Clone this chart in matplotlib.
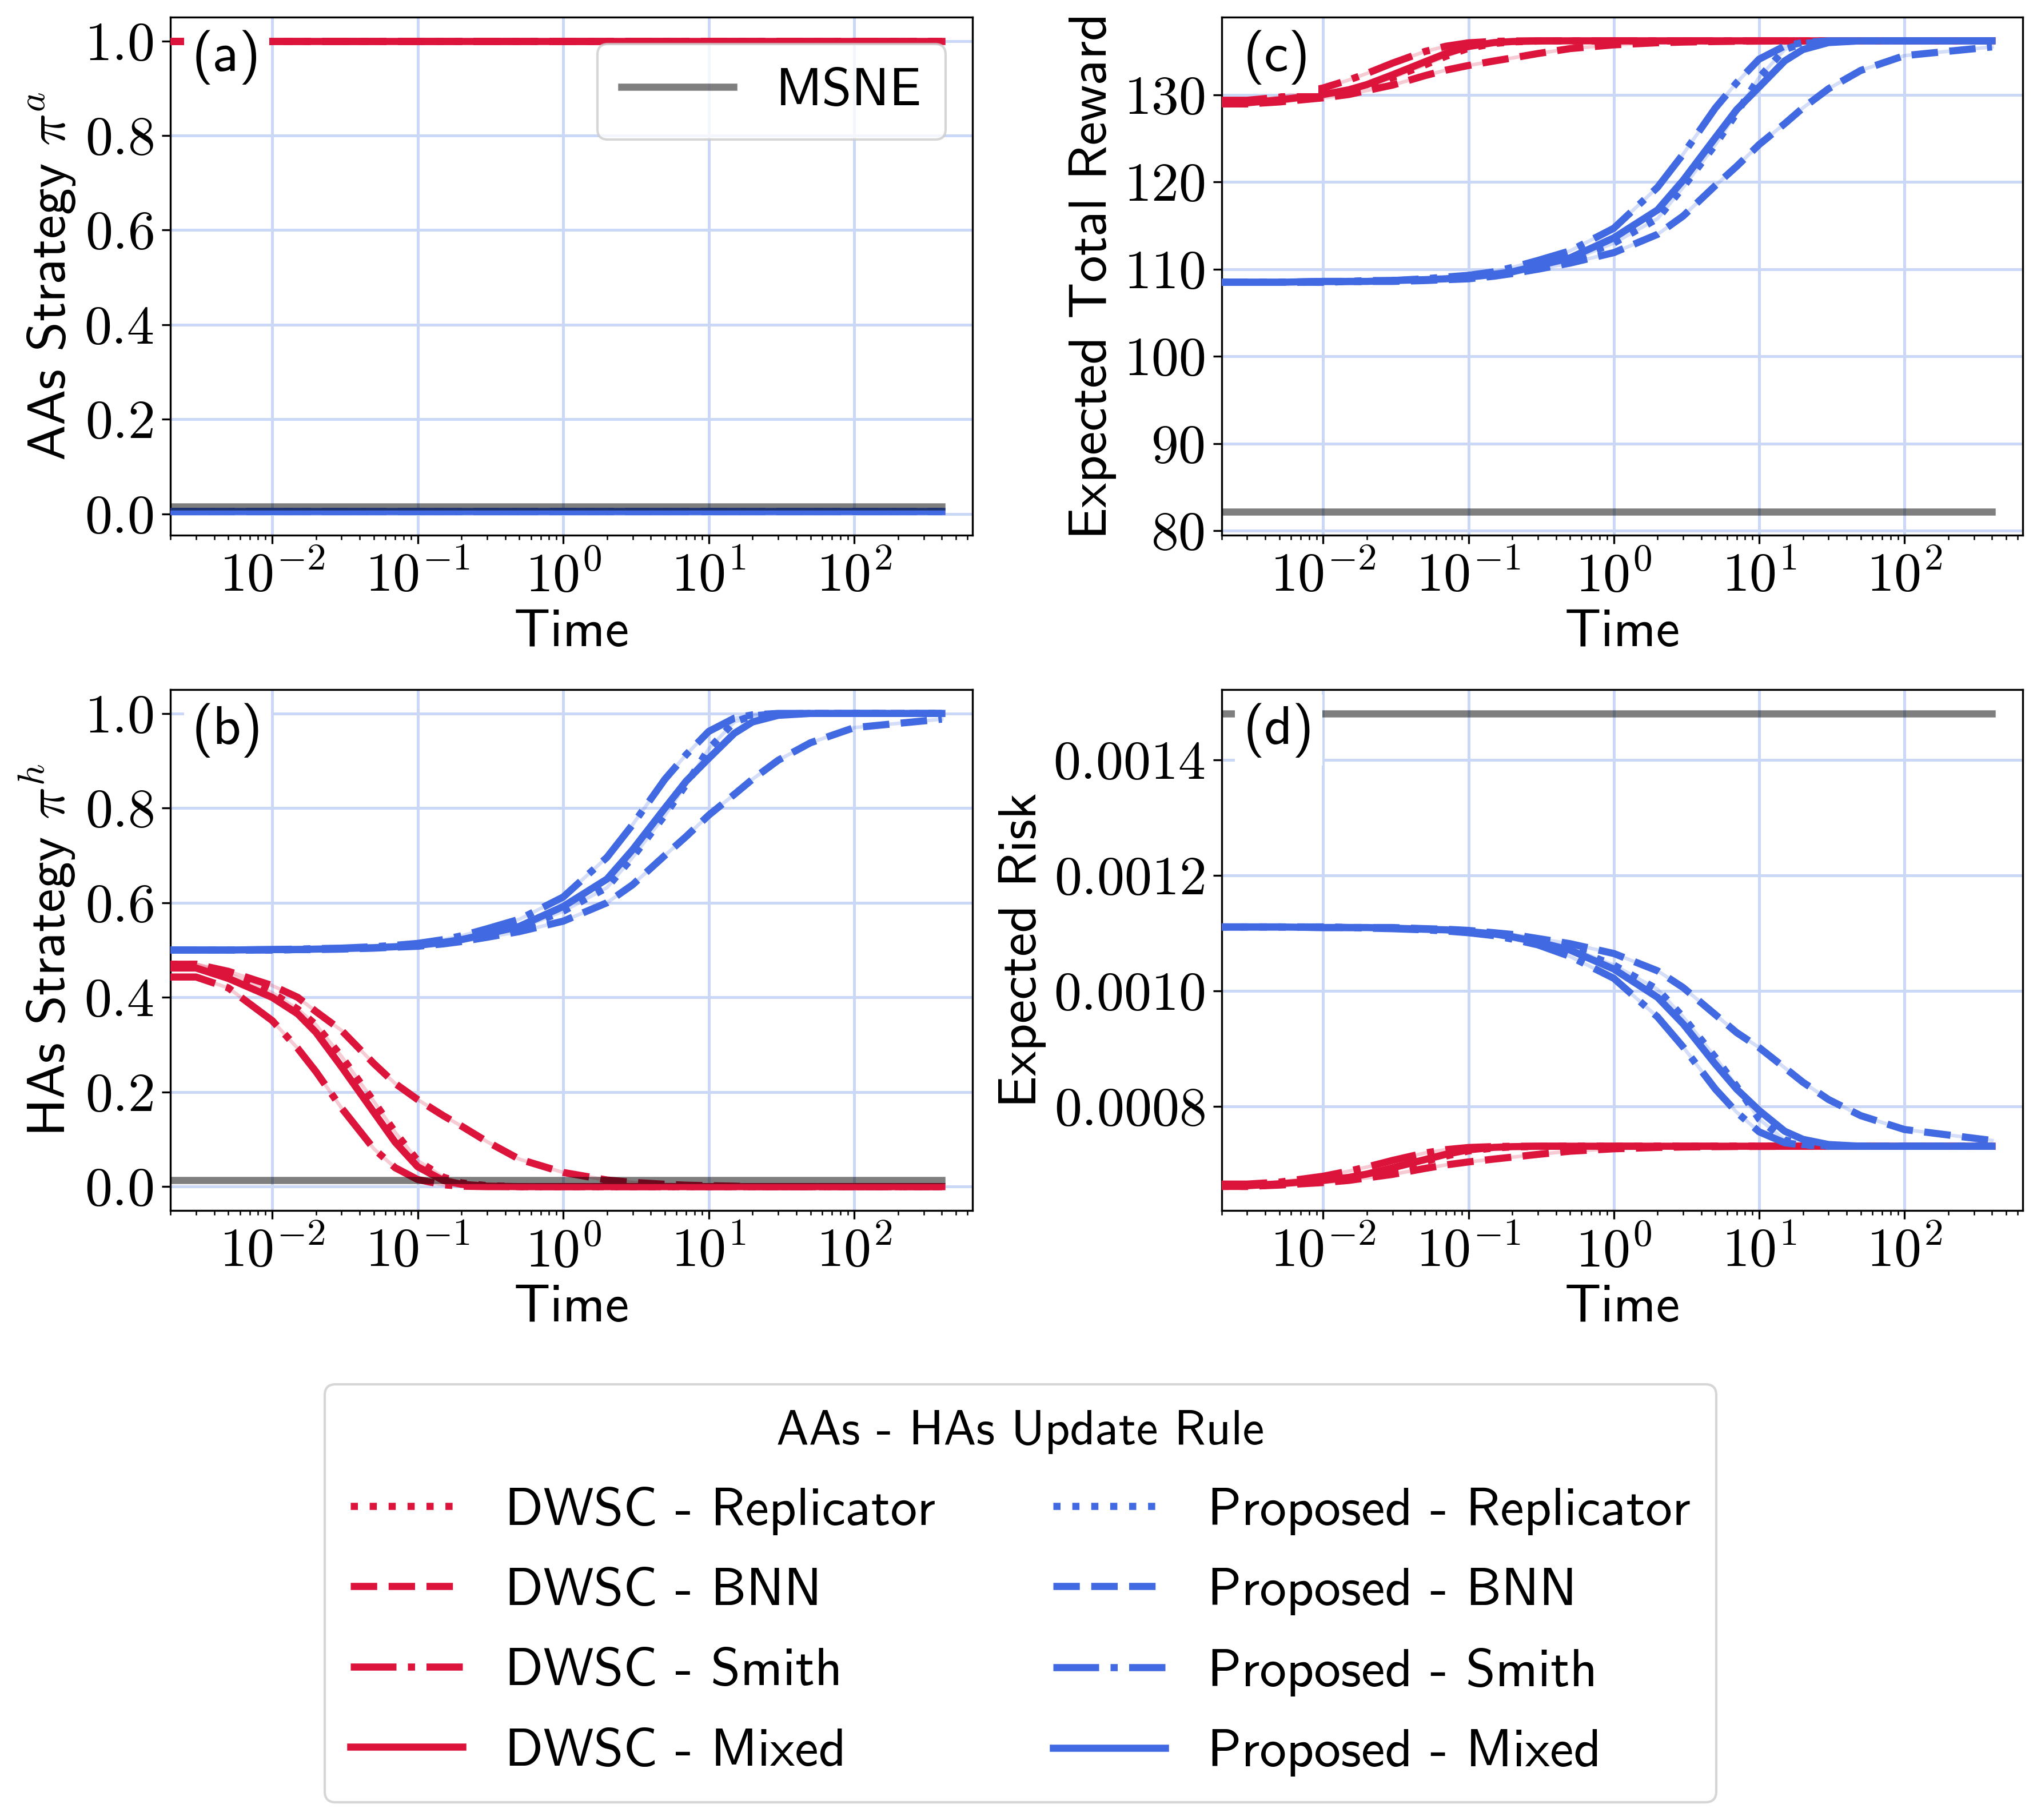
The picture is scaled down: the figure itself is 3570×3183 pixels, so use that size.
import numpy as np
import matplotlib
matplotlib.use("Agg")
import matplotlib.pyplot as plt
import matplotlib.ticker as ticker
from matplotlib.lines import Line2D

plt.rcParams["font.family"] = ["cmss10", "DejaVu Sans"]
plt.rcParams["mathtext.fontset"] = "cm"
plt.rcParams["axes.formatter.use_mathtext"] = True

RED = "#DC143C"
BLUE = "#4169E1"
GRID = "#cad7f7"

# ── data ──────────────────────────────────────────────────────────────────
T = [0.002, 0.003, 0.005, 0.01, 0.015, 0.02, 0.03, 0.05, 0.07, 0.1, 0.15, 0.2,
     0.3, 0.5, 1, 2, 3, 5, 7, 10, 15, 20, 30, 50, 100, 400]

RULES = ["Replicator", "BNN", "Smith", "Mixed"]
STYLES = {"Replicator": ":", "BNN": "--", "Smith": "-.", "Mixed": "-"}

# (a) AAs strategy
A_DWSC = [1.0, 1.0, 1.0, 1.0, 1.0, 1.0, 1.0, 1.0, 1.0, 1.0, 1.0, 1.0, 1.0,
          1.0, 1.0, 1.0, 1.0, 1.0, 1.0, 1.0, 1.0, 1.0, 1.0, 1.0, 1.0, 1.0]
A_PROP = [0.005, 0.005, 0.005, 0.005, 0.005, 0.005, 0.005, 0.005, 0.005,
          0.005, 0.005, 0.005, 0.005, 0.005, 0.005, 0.005, 0.005, 0.005,
          0.005, 0.005, 0.005, 0.005, 0.005, 0.005, 0.005, 0.005]
A_MSNE = 0.015

# (b) HAs strategy
B_DWSC = {
    "Replicator": [0.47, 0.47, 0.45, 0.41, 0.375, 0.342, 0.275, 0.18, 0.115, 0.055,
                   0.02, 0.008, 0.002, 0, 0, 0, 0, 0, 0, 0, 0, 0, 0, 0, 0, 0],
    "BNN":        [0.47, 0.47, 0.455, 0.425, 0.40, 0.37, 0.33, 0.26, 0.218, 0.184,
                   0.15, 0.128, 0.095, 0.058, 0.03, 0.014, 0.009, 0.005, 0.003,
                   0.002, 0.001, 0, 0, 0, 0, 0],
    "Smith":      [0.443, 0.443, 0.42, 0.351, 0.292, 0.243, 0.166, 0.08, 0.04,
                   0.015, 0.004, 0.001, 0, 0, 0, 0, 0, 0, 0, 0, 0, 0, 0, 0, 0, 0],
    "Mixed":      [0.462, 0.462, 0.44, 0.40, 0.365, 0.326, 0.253, 0.157, 0.094,
                   0.042, 0.013, 0.005, 0.001, 0, 0, 0, 0, 0, 0, 0, 0, 0, 0, 0, 0, 0],
}
B_PROP = {
    "Replicator": [0.5, 0.5, 0.5, 0.5, 0.501, 0.502, 0.503, 0.505, 0.507, 0.509,
                   0.514, 0.52, 0.531, 0.545, 0.582, 0.632, 0.696, 0.785, 0.85,
                   0.925, 0.982, 0.995, 0.999, 1.0, 1.0, 1.0],
    "BNN":        [0.5, 0.5, 0.5, 0.5, 0.501, 0.501, 0.502, 0.504, 0.506, 0.508,
                   0.513, 0.518, 0.527, 0.539, 0.561, 0.60, 0.638, 0.70, 0.74,
                   0.785, 0.829, 0.861, 0.901, 0.938, 0.97, 0.988],
    "Smith":      [0.5, 0.5, 0.5, 0.501, 0.502, 0.503, 0.504, 0.507, 0.51, 0.514,
                   0.522, 0.53, 0.545, 0.565, 0.612, 0.696, 0.765, 0.861, 0.913,
                   0.962, 0.99, 0.997, 1.0, 1.0, 1.0, 1.0],
    "Mixed":      [0.5, 0.5, 0.5, 0.501, 0.501, 0.502, 0.503, 0.505, 0.507, 0.51,
                   0.516, 0.522, 0.534, 0.55, 0.592, 0.65, 0.712, 0.80, 0.857,
                   0.905, 0.958, 0.982, 0.996, 1.0, 1.0, 1.0],
}
B_MSNE = 0.014

# (c) expected total reward
C_DWSC = {
    "Replicator": [128.96, 128.96, 129.27, 129.89, 130.43, 130.93, 131.97, 133.43,
                   134.43, 135.35, 135.89, 136.08, 136.17, 136.2, 136.2, 136.2,
                   136.2, 136.2, 136.2, 136.2, 136.2, 136.2, 136.2, 136.2, 136.2, 136.2],
    "BNN":        [128.96, 128.96, 129.19, 129.66, 130.04, 130.50, 131.12, 132.20,
                   132.84, 133.37, 133.89, 134.23, 134.74, 135.31, 135.74, 135.98,
                   136.06, 136.12, 136.15, 136.17, 136.18, 136.2, 136.2, 136.2,
                   136.2, 136.2],
    "Smith":      [129.38, 129.38, 129.73, 130.79, 131.70, 132.46, 133.64, 134.97,
                   135.58, 135.97, 136.14, 136.18, 136.2, 136.2, 136.2, 136.2,
                   136.2, 136.2, 136.2, 136.2, 136.2, 136.2, 136.2, 136.2, 136.2, 136.2],
    "Mixed":      [129.09, 129.09, 129.42, 130.04, 130.58, 131.18, 132.30, 133.78,
                   134.75, 135.55, 136.0, 136.12, 136.18, 136.2, 136.2, 136.2,
                   136.2, 136.2, 136.2, 136.2, 136.2, 136.2, 136.2, 136.2, 136.2, 136.2],
}
C_PROP = {
    "Replicator": [108.5, 108.5, 108.5, 108.5, 108.6, 108.6, 108.7, 108.8, 108.9,
                   109.0, 109.3, 109.6, 110.2, 111.0, 113.0, 115.8, 119.4, 124.3,
                   127.9, 132.0, 135.2, 135.9, 136.1, 136.2, 136.2, 136.2],
    "BNN":        [108.5, 108.5, 108.5, 108.5, 108.6, 108.6, 108.6, 108.7, 108.8,
                   108.9, 109.2, 109.5, 110.0, 110.7, 111.9, 114.0, 116.1, 119.6,
                   121.8, 124.3, 126.7, 128.5, 130.7, 132.8, 134.5, 135.5],
    "Smith":      [108.5, 108.5, 108.5, 108.6, 108.6, 108.7, 108.7, 108.9, 109.1,
                   109.3, 109.7, 110.2, 111.0, 112.1, 114.7, 119.4, 123.2, 128.5,
                   131.4, 134.1, 135.6, 136.0, 136.2, 136.2, 136.2, 136.2],
    "Mixed":      [108.5, 108.5, 108.5, 108.6, 108.6, 108.6, 108.7, 108.8, 108.9,
                   109.1, 109.4, 109.7, 110.4, 111.3, 113.6, 116.8, 120.2, 125.1,
                   128.3, 130.9, 133.9, 135.2, 136.0, 136.2, 136.2, 136.2],
}
C_MSNE = 82.2

# (d) expected risk
D_DWSC = {
    "Replicator": [0.0006614, 0.0006614, 0.0006644, 0.0006703, 0.0006755, 0.0006804,
                   0.0006903, 0.0007044, 0.000714, 0.0007229, 0.000728, 0.0007298,
                   0.0007307, 0.000731, 0.000731, 0.000731, 0.000731, 0.000731,
                   0.000731, 0.000731, 0.000731, 0.000731, 0.000731, 0.000731,
                   0.000731, 0.000731],
    "BNN":        [0.0006614, 0.0006614, 0.0006637, 0.0006681, 0.0006718, 0.0006762,
                   0.0006822, 0.0006925, 0.0006987, 0.0007038, 0.0007088, 0.0007121,
                   0.0007169, 0.0007224, 0.0007266, 0.0007289, 0.0007297, 0.0007303,
                   0.0007306, 0.0007307, 0.0007309, 0.000731, 0.000731, 0.000731,
                   0.000731, 0.000731],
    "Smith":      [0.0006654, 0.0006654, 0.0006688, 0.000679, 0.0006878, 0.000695,
                   0.0007064, 0.0007192, 0.0007251, 0.0007288, 0.0007304, 0.0007309,
                   0.000731, 0.000731, 0.000731, 0.000731, 0.000731, 0.000731,
                   0.000731, 0.000731, 0.000731, 0.000731, 0.000731, 0.000731,
                   0.000731, 0.000731],
    "Mixed":      [0.0006626, 0.0006626, 0.0006659, 0.0006718, 0.000677, 0.0006828,
                   0.0006936, 0.0007078, 0.0007171, 0.0007248, 0.0007291, 0.0007303,
                   0.0007309, 0.000731, 0.000731, 0.000731, 0.000731, 0.000731,
                   0.000731, 0.000731, 0.000731, 0.000731, 0.000731, 0.000731,
                   0.000731, 0.000731],
}
D_PROP = {
    "Replicator": [0.001111, 0.001111, 0.001111, 0.001111, 0.00111, 0.00111, 0.001109,
                   0.001107, 0.001106, 0.001104, 0.0011, 0.001096, 0.001087, 0.001075,
                   0.001045, 0.001003, 0.000955, 0.000885, 0.000835, 0.000778,
                   0.000742, 0.000734, 0.000732, 0.000731, 0.000731, 0.000731],
    "BNN":        [0.001111, 0.001111, 0.001111, 0.001111, 0.00111, 0.00111, 0.00111,
                   0.001108, 0.001107, 0.001105, 0.001101, 0.001098, 0.001091,
                   0.001082, 0.001065, 0.001035, 0.001006, 0.000959, 0.000928,
                   0.000902, 0.000867, 0.000842, 0.000812, 0.000784, 0.00076, 0.000741],
    "Smith":      [0.001111, 0.001111, 0.001111, 0.00111, 0.00111, 0.001109, 0.001108,
                   0.001106, 0.001104, 0.001101, 0.001096, 0.00109, 0.00108, 0.00106,
                   0.001022, 0.000955, 0.000903, 0.00083, 0.00079, 0.000756,
                   0.000737, 0.000733, 0.000731, 0.000731, 0.000731, 0.000731],
    "Mixed":      [0.001111, 0.001111, 0.001111, 0.00111, 0.00111, 0.00111, 0.001109,
                   0.001107, 0.001106, 0.001103, 0.001099, 0.001094, 0.001085,
                   0.001071, 0.001038, 0.000989, 0.000943, 0.000873, 0.00083,
                   0.000793, 0.000757, 0.000743, 0.000734, 0.000731, 0.000731, 0.000731],
}
D_MSNE = 0.001481

# ── plot ──────────────────────────────────────────────────────────────────
fig = plt.figure(figsize=(11.9, 10.61), dpi=300)
ax_a = fig.add_axes([0.0835, 0.706, 0.393, 0.2845])
ax_c = fig.add_axes([0.5985, 0.706, 0.3925, 0.2845])
ax_b = fig.add_axes([0.0835, 0.335, 0.393, 0.286])
ax_d = fig.add_axes([0.5985, 0.335, 0.3925, 0.286])

LW = 3.0
TICK_FS = 23
LABEL_FS = 22.5


def draw(ax, dwsc, prop, msne):
    for group, color in ((dwsc, RED), (prop, BLUE)):
        for rule in RULES:
            ys = group[rule] if isinstance(group, dict) else group
            ax.plot(T, ys, color=color, lw=1.5, alpha=0.22, zorder=2)
            ax.plot(T, ys, color=color, lw=LW, ls=STYLES[rule], zorder=3)
    # MSNE reference spans the simulated time range only
    ax.plot([T[0], T[-1]], [msne, msne], color="black", alpha=0.5, lw=LW, zorder=4)


def style(ax, letter, ylabel, yticks, fmt):
    ax.set_xscale("log")
    ax.set_xlim(0.002, 650)
    ax.xaxis.set_major_locator(ticker.LogLocator(base=10, numticks=20))
    ax.xaxis.set_minor_locator(ticker.LogLocator(base=10, subs=np.arange(2, 10), numticks=20))
    ax.xaxis.set_major_formatter(ticker.FuncFormatter(
        lambda v, _: r"$10^{%d}$" % int(round(np.log10(v)))))
    ax.xaxis.set_minor_formatter(ticker.NullFormatter())
    ax.set_yticks(yticks)
    ax.yaxis.set_major_formatter(ticker.FuncFormatter(lambda v, _: "$" + fmt.format(v) + "$"))
    ax.tick_params(labelsize=TICK_FS)
    ax.grid(True, which="major", color=GRID, lw=1.2)
    ax.set_xlabel("Time", fontsize=LABEL_FS, labelpad=3)
    ax.set_ylabel(ylabel, fontsize=LABEL_FS, labelpad=3)
    ax.text(0.027, 0.975, f"({letter})", transform=ax.transAxes, fontsize=23,
            ha="left", va="top", zorder=10,
            bbox=dict(facecolor="white", edgecolor="none", boxstyle="square,pad=0.15"))


draw(ax_a, A_DWSC, A_PROP, A_MSNE)
draw(ax_b, B_DWSC, B_PROP, B_MSNE)
draw(ax_c, C_DWSC, C_PROP, C_MSNE)
draw(ax_d, D_DWSC, D_PROP, D_MSNE)

style(ax_a, "a", r"AAs Strategy $\pi^a$", [0, 0.2, 0.4, 0.6, 0.8, 1.0], "{:.1f}")
style(ax_b, "b", r"HAs Strategy $\pi^h$", [0, 0.2, 0.4, 0.6, 0.8, 1.0], "{:.1f}")
style(ax_c, "c", "Expected Total Reward", [80, 90, 100, 110, 120, 130], "{:.0f}")
style(ax_d, "d", "Expected Risk", [0.0008, 0.0010, 0.0012, 0.0014], "{:.4f}")

ax_a.set_ylim(-0.045, 1.05)
ax_b.set_ylim(-0.05, 1.05)
ax_c.set_ylim(79.5, 138.9)
ax_d.set_ylim(0.00062, 0.001522)

msne_handle = Line2D([], [], color="black", alpha=0.5, lw=LW)
ax_a.legend([msne_handle], ["MSNE"], loc="upper right", fontsize=22.4,
            handlelength=2.1, borderpad=0.45)

handles, labels = [], []
for name, color in (("DWSC", RED), ("Proposed", BLUE)):
    for rule in RULES:
        handles.append(Line2D([], [], color=color, lw=LW, ls=STYLES[rule]))
        labels.append(f"{name} - {rule}")
fig.legend(handles, labels, loc="lower center", bbox_to_anchor=(0.5, 0.0097),
           borderaxespad=0, ncol=2, fontsize=22.4,
           title="AAs - HAs Update Rule", title_fontsize=20.5,
           labelspacing=0.61, columnspacing=2.2, handlelength=2.1,
           handletextpad=0.8, borderpad=0.48)

fig.savefig("out.png", dpi=300, facecolor="white")
